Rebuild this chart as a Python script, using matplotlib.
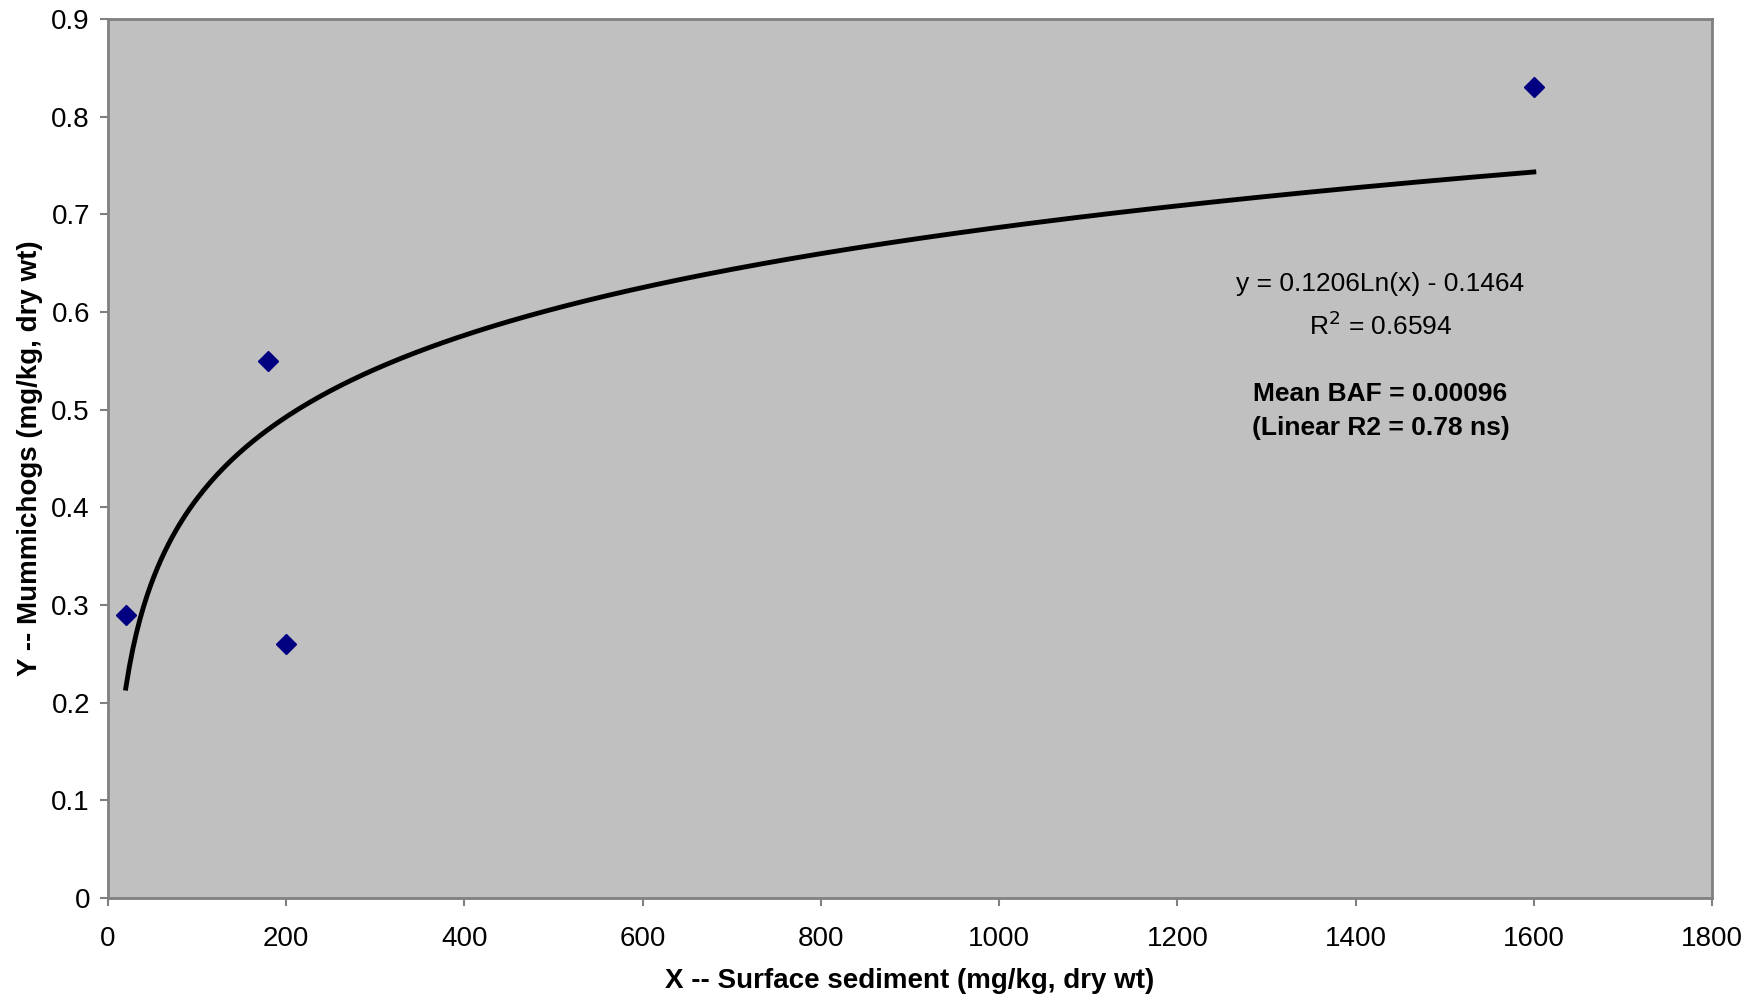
import numpy as np
import matplotlib
matplotlib.use("Agg")
import matplotlib.pyplot as plt

plt.rcParams['font.family'] = ['Liberation Sans', 'DejaVu Sans']

# data
sediment = [20, 180, 200, 1600]
mummichogs = [0.29, 0.55, 0.26, 0.83]

# log trendline as printed on the chart
slope = 0.1206
intercept = -0.1464
x_fit = np.linspace(min(sediment), max(sediment), 400)
y_fit = slope * np.log(x_fit) + intercept

fig = plt.figure(figsize=(17.47, 10), dpi=100)
ax = fig.add_axes([0.0618, 0.102, 0.9182, 0.879])
ax.set_facecolor('#C0C0C0')

ax.plot(x_fit, y_fit, color='black', lw=3.5)
ax.plot(sediment, mummichogs, 'D', color='#000080', ms=10, mec='#000080')

ax.set_xlim(0, 1800)
ax.set_ylim(0, 0.9)
ax.set_xticks(np.arange(0, 1801, 200))
ax.set_yticks(np.arange(0, 0.91, 0.1))
ax.set_yticklabels(['0', '0.1', '0.2', '0.3', '0.4', '0.5', '0.6', '0.7', '0.8', '0.9'])

for s in ax.spines.values():
    s.set_color('#808080')
    s.set_linewidth(2)
ax.tick_params(colors='#808080', labelcolor='black', labelsize=20, length=6, width=1.5, direction='out')
ax.tick_params(axis='x', pad=14)
ax.tick_params(axis='y', pad=7)

ax.set_xlabel('X -- Surface sediment (mg/kg, dry wt)', fontsize=20, fontweight='bold', labelpad=12)
ax.set_ylabel('Y -- Mummichogs (mg/kg, dry wt)', fontsize=20, fontweight='bold', labelpad=6)

ax.text(1428, 0.6287, 'y = 0.1206Ln(x) - 0.1464', fontsize=19, ha='center', va='center')
ax.text(1428, 0.5855, 'R$^2$ = 0.6594', fontsize=19, ha='center', va='center')
ax.text(1428, 0.5159, 'Mean BAF = 0.00096', fontsize=19, ha='center', va='center', fontweight='bold')
ax.text(1428, 0.4811, '(Linear R2 = 0.78 ns)', fontsize=19, ha='center', va='center', fontweight='bold')

fig.savefig('out.png', dpi=100)
